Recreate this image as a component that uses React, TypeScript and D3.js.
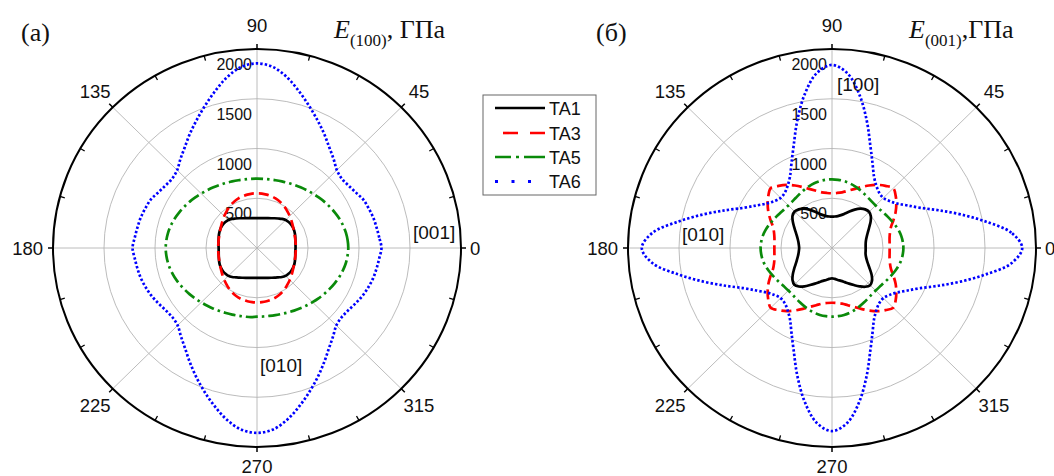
import React from 'react'
import * as d3 from 'd3'

// sampling angles, degrees
const ANGLES = [
  0, 5, 10, 15, 20, 25, 30, 35, 40, 45, 50, 55, 60, 65, 70, 75, 80, 85,
  90, 95, 100, 105, 110, 115, 120, 125, 130, 135, 140, 145, 150, 155, 160, 165, 170, 175,
  180, 185, 190, 195, 200, 205, 210, 215, 220, 225, 230, 235, 240, 245, 250, 255, 260, 265,
  270, 275, 280, 285, 290, 295, 300, 305, 310, 315, 320, 325, 330, 335, 340, 345, 350, 355,
]

// (а) E(100), GPa
const A_TA1 = [
  378, 379, 383, 389, 397, 404, 408, 409, 405, 398, 382, 362, 345, 330, 319, 311, 305, 301,
  300, 301, 305, 311, 319, 330, 345, 362, 382, 398, 405, 409, 408, 404, 397, 389, 383, 379,
  376, 377, 381, 387, 395, 402, 406, 407, 403, 396, 380, 360, 344, 330, 319, 311, 305, 301,
  300, 301, 305, 311, 319, 330, 344, 360, 380, 396, 403, 407, 406, 402, 395, 387, 381, 377,
]
const A_TA3 = [
  380, 381, 383, 387, 392, 400, 410, 423, 438, 454, 470, 488, 505, 519, 530, 539, 545, 549,
  550, 549, 545, 539, 530, 519, 505, 488, 470, 454, 438, 423, 410, 400, 392, 387, 383, 381,
  380, 381, 383, 387, 392, 400, 410, 423, 438, 454, 470, 488, 505, 519, 530, 538, 543, 546,
  547, 546, 543, 538, 530, 519, 505, 488, 470, 454, 438, 423, 410, 400, 392, 387, 383, 381,
]
const A_TA5 = [
  895, 892, 885, 874, 860, 843, 825, 808, 790, 773, 758, 744, 732, 721, 712, 705, 700, 698,
  697, 698, 700, 705, 712, 721, 732, 744, 758, 773, 790, 808, 825, 843, 860, 874, 885, 892,
  895, 892, 885, 874, 860, 843, 825, 808, 790, 773, 758, 744, 732, 721, 712, 705, 700, 698,
  690, 691, 693, 698, 705, 715, 727, 740, 755, 770, 787, 805, 822, 840, 857, 872, 884, 891,
]
const A_TA6 = [
  1220, 1203, 1190, 1180, 1165, 1150, 1118, 1095, 1085, 1107, 1168, 1235, 1320, 1410, 1510, 1620, 1735, 1825,
  1855, 1825, 1735, 1620, 1510, 1410, 1320, 1235, 1168, 1107, 1085, 1095, 1118, 1150, 1165, 1180, 1190, 1203,
  1220, 1203, 1190, 1178, 1160, 1140, 1115, 1092, 1083, 1100, 1160, 1230, 1320, 1420, 1525, 1635, 1745, 1830,
  1858, 1830, 1745, 1635, 1525, 1420, 1320, 1230, 1160, 1100, 1083, 1092, 1115, 1140, 1160, 1178, 1190, 1203,
]

// (б) E(001), GPa
const B_TA1 = [
  330, 331, 336, 347, 365, 390, 422, 462, 497, 515, 507, 482, 445, 405, 368, 342, 326, 318,
  315, 318, 326, 342, 368, 405, 445, 482, 507, 518, 505, 470, 430, 395, 368, 348, 334, 326,
  322, 326, 334, 348, 368, 395, 430, 470, 505, 522, 505, 470, 430, 395, 365, 342, 326, 312,
  305, 312, 326, 342, 365, 395, 430, 470, 508, 528, 512, 475, 430, 392, 364, 345, 334, 331,
]
const B_TA3 = [
  565, 567, 573, 588, 615, 665, 720, 770, 815, 850, 815, 775, 725, 675, 630, 595, 568, 555,
  550, 555, 568, 595, 630, 675, 725, 775, 815, 850, 815, 770, 720, 665, 615, 588, 573, 567,
  565, 567, 573, 588, 615, 665, 720, 770, 815, 850, 815, 775, 725, 675, 630, 595, 568, 555,
  550, 555, 568, 595, 630, 675, 725, 775, 815, 850, 815, 770, 720, 665, 615, 588, 573, 567,
]
const B_TA5 = [
  700, 697, 690, 678, 662, 645, 630, 617, 608, 605, 608, 617, 630, 645, 660, 673, 683, 688,
  690, 688, 683, 673, 660, 645, 630, 617, 608, 605, 608, 617, 630, 645, 662, 678, 690, 697,
  700, 697, 690, 678, 662, 645, 630, 617, 608, 605, 608, 617, 630, 645, 660, 673, 683, 688,
  690, 688, 683, 673, 660, 645, 630, 617, 608, 605, 608, 617, 630, 645, 662, 678, 690, 697,
]
const B_TA6 = [
  1865, 1765, 1530, 1305, 1110, 955, 855, 780, 735, 712, 722, 760, 825, 940, 1098, 1320, 1560, 1760,
  1840, 1760, 1560, 1320, 1098, 940, 825, 760, 722, 712, 735, 780, 855, 955, 1110, 1305, 1530, 1765,
  1865, 1765, 1530, 1305, 1110, 955, 855, 780, 735, 712, 722, 760, 825, 940, 1098, 1320, 1560, 1760,
  1840, 1760, 1560, 1320, 1098, 940, 825, 760, 722, 712, 735, 780, 855, 955, 1110, 1305, 1530, 1765,
]

const SERIES_NAMES = ['TA1', 'TA3', 'TA5', 'TA6']
const RADIAL_TICKS = [500, 1000, 1500, 2000]
const ANGLE_TICKS = [0, 45, 90, 135, 180, 225, 270, 315]
const R_MAX = 2000

const STYLES = [
  { color: '#000000', dash: null, width: 2.7 },
  { color: '#ff0000', dash: '10 5', width: 2.7 },
  { color: '#0a8a0a', dash: '12 4 2.5 4', width: 2.7 },
  { color: '#0000ff', dash: '2.4 2.1', width: 2.7 },
]
const LEGEND_DASH = [null, '15 12', '16 5 3 5 21 10', '3 13.5 3 13.5 3 40']

const SANS = '"Liberation Sans", Arial, sans-serif'
const SERIF = '"Liberation Serif", "Times New Roman", serif'
const INK = '#111'
const RX = 204
const RY = 199
const rad = (d: number) => (d * Math.PI) / 180

function PolarPanel({ cx, cy, data, label, sub, sep, dirs }: any) {
  const sx = d3.scaleLinear().domain([0, R_MAX]).range([0, RX])
  const sy = d3.scaleLinear().domain([0, R_MAX]).range([0, RY])
  const line = d3.line<[number, number]>()
    .x((d) => cx + sx(d[1]) * Math.cos(rad(d[0])))
    .y((d) => cy - sy(d[1]) * Math.sin(rad(d[0])))
    .curve(d3.curveCatmullRomClosed.alpha(0.5))

  const minor = d3.range(0, 360, 15).filter((a) => a % 45 !== 0)

  return (
    <g>
      {/* grid */}
      {RADIAL_TICKS.slice(0, 3).map((v) => (
        <ellipse key={v} cx={cx} cy={cy} rx={sx(v)} ry={sy(v)} fill="none" stroke="#b4b4b4" strokeWidth={0.9} />
      ))}
      {ANGLE_TICKS.map((a) => (
        <line key={a} x1={cx} y1={cy} x2={cx + RX * Math.cos(rad(a))} y2={cy - RY * Math.sin(rad(a))}
          stroke="#b4b4b4" strokeWidth={0.9} />
      ))}
      <ellipse cx={cx} cy={cy} rx={RX} ry={RY} fill="none" stroke="#000" strokeWidth={2} />
      {ANGLE_TICKS.map((a) => (
        <line key={'M' + a} x1={cx + RX * Math.cos(rad(a))} y1={cy - RY * Math.sin(rad(a))}
          x2={cx + (RX + 5) * Math.cos(rad(a))} y2={cy - (RY + 5) * Math.sin(rad(a))}
          stroke="#000" strokeWidth={1.5} />
      ))}
      {minor.map((a) => (
        <line key={'m' + a} x1={cx + RX * Math.cos(rad(a))} y1={cy - RY * Math.sin(rad(a))}
          x2={cx + (RX - 5) * Math.cos(rad(a))} y2={cy - (RY - 5) * Math.sin(rad(a))}
          stroke="#000" strokeWidth={1.3} />
      ))}

      {/* radial labels */}
      {RADIAL_TICKS.map((v) => (
        <text key={'r' + v} x={cx - 5} y={cy - sy(v) + 21} textAnchor="end" fontSize={16} fontFamily={SANS} fill={INK}>{v}</text>
      ))}

      {/* angle labels */}
      {ANGLE_TICKS.map((a) => {
        let x = cx + (RX + 25) * Math.cos(rad(a))
        let y = cy - (RY + 23) * Math.sin(rad(a))
        let anchor = 'middle'
        if (a === 0) { x = cx + RX + 9; y = cy; anchor = 'start' }
        if (a === 180) { x = cx - RX - 10; y = cy; anchor = 'end' }
        if (a === 90) { y = cy - RY - 24 }
        if (a === 270) { y = cy + RY + 19 }
        return (
          <text key={'a' + a} x={x} y={y} dy="0.36em" textAnchor={anchor} fontSize={18.5} fontFamily={SANS} fill={INK}>{a}</text>
        )
      })}

      {/* curves */}
      {data.map((vals: number[], i: number) => (
        <path key={i} d={line(ANGLES.map((a, j) => [a, vals[j]]) as [number, number][]) || ''}
          fill="none" stroke={STYLES[i].color} strokeWidth={STYLES[i].width}
          strokeDasharray={STYLES[i].dash || undefined} />
      ))}

      {/* direction labels */}
      {dirs.map((d: any) => (
        <text key={d.t + d.dx} x={cx + d.dx} y={cy + d.dy} fontSize={19} fontFamily={SANS} fill={INK}>{d.t}</text>
      ))}

      {/* panel captions */}
      <text x={cx - 236} y={41} fontSize={26} fontFamily={SERIF} fill={INK}>{label}</text>
      <text x={cx + 77} y={38} fontSize={26} fontFamily={SERIF} fill={INK}>
        <tspan fontStyle="italic">E</tspan>
        <tspan fontSize={17} dy={8}>{sub}</tspan>
        <tspan dy={-8}>{sep}</tspan>
      </text>
    </g>
  )
}

function Legend() {
  const x0 = 483, y0 = 95
  const rows = [108, 133, 157, 181.5]
  return (
    <g>
      <rect x={x0} y={y0} width={113} height={100} fill="#fff" stroke="#666" strokeWidth={1} />
      {SERIES_NAMES.map((n, i) => (
        <g key={n}>
          <line x1={495} x2={545} y1={rows[i]} y2={rows[i]} stroke={STYLES[i].color} strokeWidth={i === 3 ? 3 : 2.6}
            strokeDasharray={LEGEND_DASH[i] || undefined} strokeDashoffset={i === 1 ? 19 : 0} />
          <text x={549} y={rows[i] + 6.5} fontSize={18} fontFamily={SANS} fill={INK}>{n}</text>
        </g>
      ))}
    </g>
  )
}

export default function App() {
  return (
    <svg width={1054} height={476} style={{ position: 'absolute', left: 0, top: 0, background: '#fff' }}>
      <rect width={1054} height={476} fill="#fff" />
      <PolarPanel cx={257} cy={248} data={[A_TA1, A_TA3, A_TA5, A_TA6]} label="(а)" sub="(100)" sep=", ГПа"
        dirs={[{ t: '[001]', dx: 156, dy: -9 }, { t: '[010]', dx: 3, dy: 124 }]} />
      <PolarPanel cx={832} cy={248} data={[B_TA1, B_TA3, B_TA5, B_TA6]} label="(б)" sub="(001)" sep=",ГПа"
        dirs={[{ t: '[100]', dx: 5, dy: -157 }, { t: '[010]', dx: -150, dy: -7 }]} />
      <Legend />
    </svg>
  )
}
